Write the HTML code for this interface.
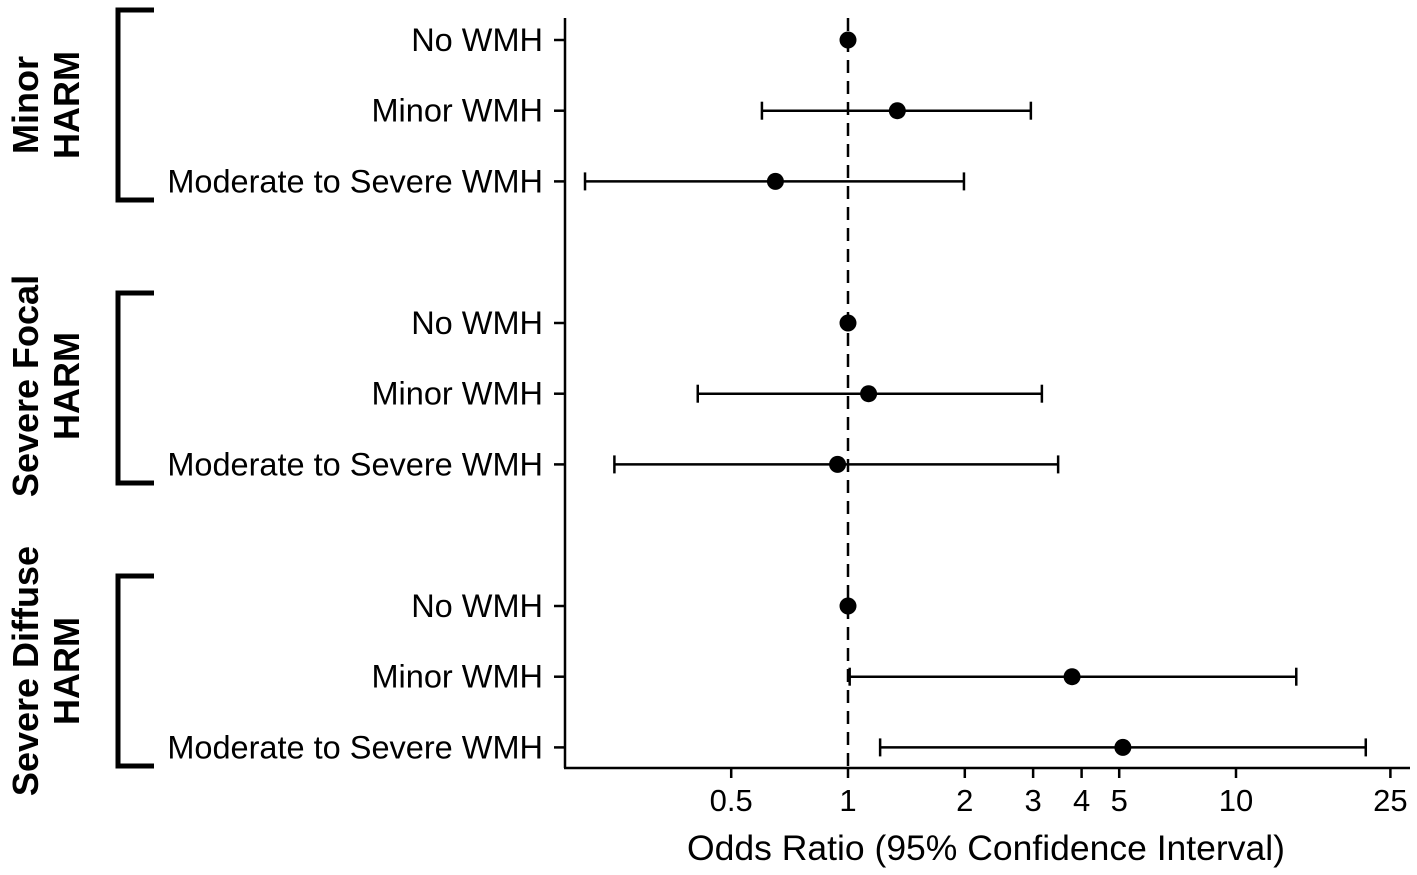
<!DOCTYPE html>
<html><head><meta charset="utf-8"><style>
html,body{margin:0;padding:0;background:#fff;}
svg{display:block;font-family:"Liberation Sans",Arial,sans-serif;}
</style></head><body>
<svg id="chart" width="1417" height="875">
<g id="brackets"></g><g id="axes"></g><g id="marks"></g>
</svg>
<script>
const groups = ["Minor|HARM","Severe Focal|HARM","Severe Diffuse|HARM"];
const categories = ["No WMH","Minor WMH","Moderate to Severe WMH","No WMH","Minor WMH","Moderate to Severe WMH","No WMH","Minor WMH","Moderate to Severe WMH"];
const oddsRatio = [1,1.34,0.65,1,1.13,0.94,1,3.78,5.11];
const ciLow = [null,0.60,0.21,null,0.41,0.25,null,1.01,1.21];
const ciHigh = [null,2.96,1.99,null,3.16,3.48,null,14.3,21.6];
const tickValues = [0.5,1,2,3,4,5,10,25];
const tickLabels = ["0.5","1","2","3","4","5","10","25"];

const NS="http://www.w3.org/2000/svg";
function mk(parent,tag,attrs,text){const e=document.createElementNS(NS,tag);for(const k in attrs)e.setAttribute(k,attrs[k]);if(text!=null)e.textContent=text;parent.appendChild(e);return e;}
const xs=v=>848+388*Math.log10(v);
const ys=i=>40+Math.floor(i/3)*283+(i%3)*70.7;
const axes=document.getElementById('axes'),marks=document.getElementById('marks'),br=document.getElementById('brackets');

let e=mk(axes,'line',{x1:565,y1:18,x2:565,y2:768,stroke:'#000','stroke-width':2.5});


e=mk(axes,'line',{x1:564,y1:768,x2:1410,y2:768,stroke:'#000','stroke-width':2.5});


tickValues.forEach((v,i)=>{
  mk(axes,'line',{x1:xs(v),y1:768,x2:xs(v),y2:778,stroke:'#000','stroke-width':2.5});
  const t=mk(axes,'text',{x:xs(v),y:811,'font-size':31,'text-anchor':'middle'},tickLabels[i]);
  
  
});
e=mk(axes,'text',{x:986,y:860,'font-size':35.5,'text-anchor':'middle'},'Odds Ratio (95% Confidence Interval)');


e=mk(axes,'line',{x1:xs(1),y1:18,x2:xs(1),y2:768,stroke:'#000','stroke-width':2.5,'stroke-dasharray':'13,8'});



categories.forEach((c,i)=>{
  const y=ys(i);
  mk(axes,'line',{x1:554,y1:y,x2:565,y2:y,stroke:'#000','stroke-width':2.5});
  const t=mk(axes,'text',{x:543,y:y+11,'font-size':32.5,'text-anchor':'end'},c);
  
  
  if(ciLow[i]!=null){
    const g=mk(marks,'g',{stroke:'#000','stroke-width':2.5});
    
    
    mk(g,'line',{x1:xs(ciLow[i]),y1:y,x2:xs(ciHigh[i]),y2:y});
    mk(g,'line',{x1:xs(ciLow[i]),y1:y-9,x2:xs(ciLow[i]),y2:y+9});
    mk(g,'line',{x1:xs(ciHigh[i]),y1:y-9,x2:xs(ciHigh[i]),y2:y+9});
  }
  const d=mk(marks,'circle',{cx:xs(oddsRatio[i]),cy:y,r:8.5,fill:'#000'});
  
  
});

groups.forEach((g,k)=>{
  const top=10+k*283,bot=200+k*283;
  const p=mk(br,'path',{d:`M154 ${top} H118 V${bot} H154`,fill:'none',stroke:'#000','stroke-width':5});
  
  
  const [a,b]=g.split('|');
  const cy=(top+bot)/2 + (k==1?-2:0);
  const t=mk(br,'text',{transform:`translate(0 ${cy}) rotate(-90)`,'font-size':36,'font-weight':'bold','text-anchor':'middle'});
  
  
  mk(t,'tspan',{x:0,y:38},a);
  mk(t,'tspan',{x:0,y:79},b);
});
</script>
</body></html>
